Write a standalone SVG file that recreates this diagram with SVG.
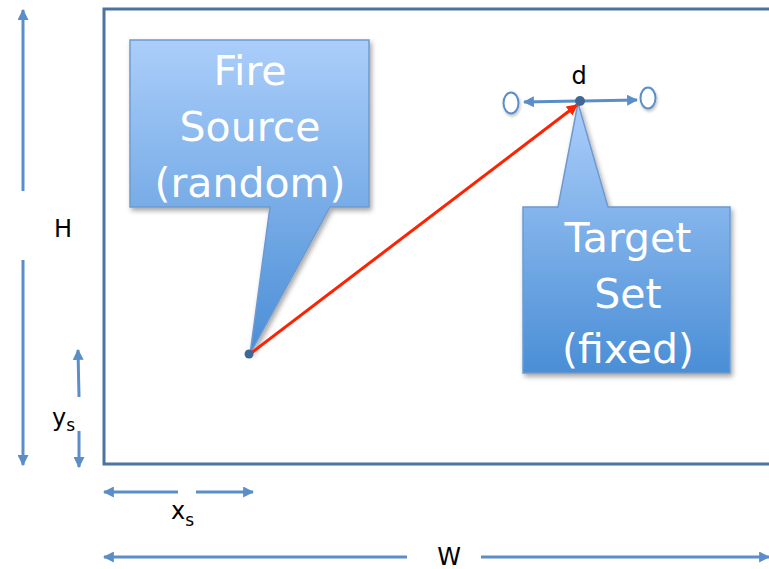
<svg xmlns="http://www.w3.org/2000/svg" width="769" height="569" viewBox="0 0 769 569">
<style>
.dim{stroke:#5b8ec8;stroke-width:3;fill:none}
.lbl{font-family:"DejaVu Sans",Verdana,sans-serif;font-size:24px;fill:#000}
.sub{font-size:17px}
.call{fill:url(#cg);stroke:#6e9ad0;stroke-width:1.5;filter:url(#sh)}
.ct{font-family:"DejaVu Sans",Verdana,sans-serif;font-size:41px;fill:#fff;text-anchor:middle}
</style>
<defs>
<linearGradient id="cg" x1="0" y1="0" x2="0" y2="1">
<stop offset="0" stop-color="#abcefa"/>
<stop offset="1" stop-color="#4a8ed6"/>
</linearGradient>
<filter id="sh" x="-10%" y="-10%" width="130%" height="130%">
<feDropShadow dx="2" dy="3" stdDeviation="2.5" flood-color="#000" flood-opacity="0.35"/>
</filter>
<filter id="sh2" x="-50%" y="-50%" width="200%" height="200%">
<feDropShadow dx="1" dy="2" stdDeviation="1.5" flood-color="#000" flood-opacity="0.25"/>
</filter>
<marker id="ab" viewBox="0 0 10 10" refX="9" refY="5" markerWidth="11" markerHeight="11" markerUnits="userSpaceOnUse" orient="auto">
<path d="M0,0 L10,5 L0,10 Z" fill="#5b8ec8"/>
</marker>
<marker id="ar" viewBox="0 0 10 10" refX="9" refY="5" markerWidth="11" markerHeight="11" markerUnits="userSpaceOnUse" orient="auto">
<path d="M0,0 L10,5 L0,10 Z" fill="#ff2200"/>
</marker>
</defs>
<rect width="769" height="569" fill="#fff"/>
<g id="frame">
<path d="M772,9 H104 V464 H772" fill="none" stroke="#4a73a2" stroke-width="3"/>
</g>
<g id="connectors">
<line class="dim" x1="23" y1="191" x2="23" y2="10" marker-end="url(#ab)"/>
<line class="dim" x1="23" y1="260" x2="23" y2="465" marker-end="url(#ab)"/>
<line class="dim" x1="79" y1="397" x2="78" y2="350" marker-end="url(#ab)"/>
<line class="dim" x1="79" y1="431" x2="79" y2="467" marker-end="url(#ab)"/>
<line class="dim" x1="178" y1="492" x2="104" y2="492" marker-end="url(#ab)"/>
<line class="dim" x1="196" y1="492" x2="253" y2="492" marker-end="url(#ab)"/>
<line class="dim" x1="407" y1="557" x2="104" y2="557" marker-end="url(#ab)"/>
<line class="dim" x1="481" y1="557" x2="769" y2="557" marker-end="url(#ab)"/>
<line class="dim" x1="578" y1="101" x2="524" y2="102" marker-end="url(#ab)"/>
<line class="dim" x1="582" y1="101" x2="637" y2="100" marker-end="url(#ab)"/>
</g>
<g id="fire-source">
<path class="call" d="M130,40 H369 V207 H330 L250,354 L270,207 H130 Z"/>
<text class="ct" x="250" y="85">Fire</text>
<text class="ct" x="250" y="141">Source</text>
<text class="ct" x="250" y="197">(random)</text>
</g>
<g id="target-set">
<path class="call" d="M523,207 H558 L578,103 L608,207 H730 V373 H523 Z"/>
<text class="ct" x="628" y="252">Target</text>
<text class="ct" x="628" y="308">Set</text>
<text class="ct" x="628" y="363">(fixed)</text>
</g>
<g id="shot">
<line x1="250" y1="354" x2="577" y2="105" stroke="#ff2200" stroke-width="3" marker-end="url(#ar)"/>
</g>
<g id="source-point"><circle cx="249" cy="354" r="4.5" fill="#3f6796"/></g>
<g id="target-point"><circle cx="580" cy="101" r="5" fill="#3f6796"/></g>
<g id="left-target"><ellipse cx="511" cy="103" rx="7.5" ry="10.5" fill="#fff" stroke="#5b8ec8" stroke-width="2" filter="url(#sh2)"/></g>
<g id="right-target"><ellipse cx="648" cy="98" rx="7.5" ry="10.5" fill="#fff" stroke="#5b8ec8" stroke-width="2" filter="url(#sh2)"/></g>
<g id="labels">
<text class="lbl" x="63" y="237" text-anchor="middle">H</text>
<text class="lbl" x="52" y="426">y<tspan class="sub" dy="5">s</tspan></text>
<text class="lbl" x="171" y="519">x<tspan class="sub" dy="7">s</tspan></text>
<text class="lbl" x="449" y="565" text-anchor="middle">W</text>
<text class="lbl" x="579" y="84" text-anchor="middle">d</text>
</g>
</svg>
